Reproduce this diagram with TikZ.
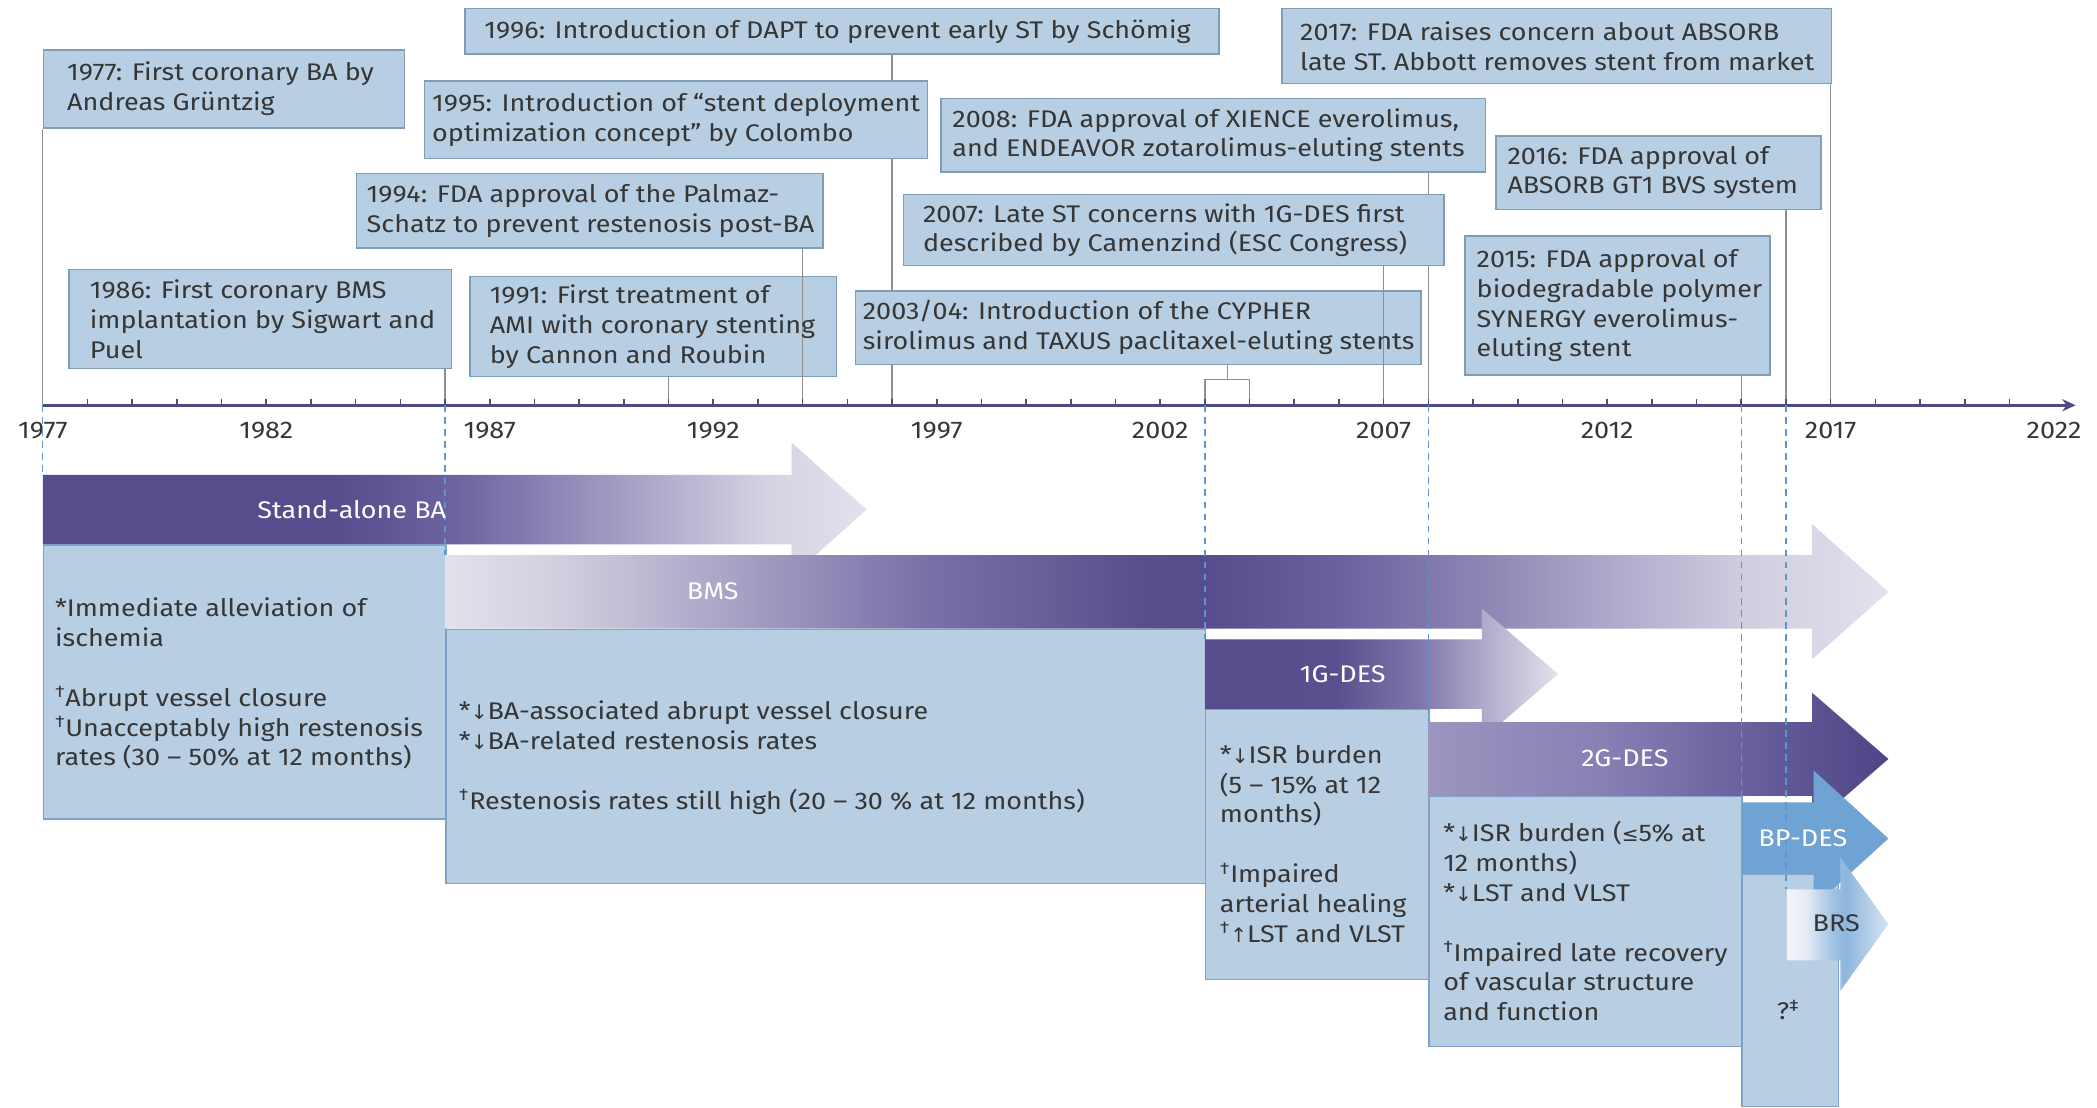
\documentclass[tikz,border=0pt]{standalone}
\usepackage{fontspec}
\setmainfont{Fira Sans}[FakeStretch=1.12]
\newfontfamily\symf{DejaVu Sans}
\usetikzlibrary{arrows.meta}
\definecolor{txt}{HTML}{363636}
\definecolor{boxfill}{HTML}{B8CEE3}
\definecolor{evborder}{HTML}{7F9CB9}
\definecolor{infoborder}{HTML}{7FA3C8}
\definecolor{conn}{HTML}{8E8E8E}
\definecolor{axisc}{HTML}{4E4B82}
\definecolor{dashc}{HTML}{5E95CC}
\definecolor{pdark}{HTML}{574C8C}
\definecolor{plight}{HTML}{E3E1EB}
\definecolor{bpblue}{HTML}{6FA3D4}
\definecolor{ba1}{HTML}{6C63A0}
\definecolor{ba2}{HTML}{A39DC4}
\definecolor{ba3}{HTML}{D5D2E3}
\definecolor{bm1}{HTML}{D2CEDF}
\definecolor{bm2}{HTML}{A49EC3}
\definecolor{bm3}{HTML}{7A71A8}
\definecolor{bm4}{HTML}{5A4F8D}
\definecolor{bm5}{HTML}{6A61A0}
\definecolor{bm6}{HTML}{8A83B2}
\definecolor{bm7}{HTML}{ABA6C9}
\definecolor{bm8}{HTML}{D0CDE0}
\definecolor{gaa}{HTML}{5A4F8E}
\definecolor{gab}{HTML}{7D75AA}
\definecolor{gac}{HTML}{B0AACB}
\definecolor{gba}{HTML}{9C95C0}
\definecolor{gbb}{HTML}{8880B3}
\definecolor{gbc}{HTML}{625998}
\definecolor{gbd}{HTML}{4F4586}
\definecolor{ra}{HTML}{F3F5F9}
\definecolor{rb}{HTML}{E6EDF5}
\definecolor{rc}{HTML}{9DC0E2}
\definecolor{rd}{HTML}{8EB6DD}
\definecolor{re}{HTML}{D5E4F2}
\pgfdeclarehorizontalshading{shBA}{100bp}{color(0bp)=(pdark); color(25bp)=(pdark); color(42.5bp)=(pdark); color(50bp)=(ba1); color(60bp)=(ba2); color(69bp)=(ba3); color(75bp)=(plight); color(100bp)=(plight)}
\pgfdeclarehorizontalshading{shBMS}{100bp}{color(0bp)=(plight); color(25bp)=(plight); color(29bp)=(bm1); color(35.5bp)=(bm2); color(41.5bp)=(bm3); color(49bp)=(bm4); color(51.25bp)=(pdark); color(56bp)=(bm5); color(60.5bp)=(bm6); color(65bp)=(bm7); color(70bp)=(bm8); color(75bp)=(plight); color(100bp)=(plight)}
\pgfdeclarehorizontalshading{shGa}{100bp}{color(0bp)=(pdark); color(25bp)=(pdark); color(43.5bp)=(gaa); color(55bp)=(gab); color(64.5bp)=(gac); color(75bp)=(plight); color(100bp)=(plight)}
\pgfdeclarehorizontalshading{shGb}{100bp}{color(0bp)=(gba); color(25bp)=(gba); color(44bp)=(gbb); color(63bp)=(gbc); color(75bp)=(gbd); color(100bp)=(gbd)}
\pgfdeclarehorizontalshading{shBRS}{100bp}{color(0bp)=(ra); color(25bp)=(ra); color(34bp)=(rb); color(48.5bp)=(rc); color(54bp)=(rd); color(75bp)=(re); color(100bp)=(re)}
\tikzset{
  every node/.style={font=\fontsize{18}{22.3}\selectfont, text=txt, inner sep=0pt},
  evbox/.style={draw=evborder, line width=1.1pt, fill=boxfill, anchor=north west},
  evtext/.style={anchor=west, align=left},
  infobox/.style={draw=infoborder, line width=1.1pt, fill=boxfill, anchor=north west},
  infotext/.style={anchor=north west, align=left},
  conn/.style={draw=conn, line width=1pt},
  axisline/.style={draw=axisc, line width=2.4pt},
  dashln/.style={draw=dashc, line width=1pt, dash pattern=on 5pt off 4pt},
  arrlbl/.style={text=white},
  yearlbl/.style={text=txt}
}
\newcommand{\dn}{{\symf\fontsize{15}{22.3}\selectfont ↓}}
\newcommand{\up}{{\symf\fontsize{15}{22.3}\selectfont ↑}}
\newcommand{\leqs}{{\symf\fontsize{15}{22.3}\selectfont ≤}}
\begin{document}
\begin{tikzpicture}[x=1pt,y=-1pt]
\fill[white] (0,0) rectangle (1568,828);
\useasboundingbox (0,0) rectangle (1568,828);
% axis coordinates
\coordinate (a1977) at (32,303);
\coordinate (a1986) at (332.8,303);
\coordinate (a1991) at (499.9,303);
\coordinate (a1994) at (600.1,303);
\coordinate (a1996) at (667,303);
\coordinate (a2003) at (901,303);
\coordinate (a2004) at (934.3,303);
\coordinate (a2007) at (1034.6,303);
\coordinate (a2008) at (1068,303);
\coordinate (a2015) at (1302,303);
\coordinate (a2016) at (1335.4,303);
\coordinate (a2017) at (1368.8,303);
\coordinate (aend) at (1552,303);
\coordinate (br) at (918,284);
% event boxes
\node[evbox, minimum width=564, minimum height=34] (b1996) at (347,6) {};
\node[evbox, minimum width=270, minimum height=58] (b1977) at (32,37) {};
\node[evbox, minimum width=349, minimum height=56] (b1994) at (266,129) {};
\node[evbox, minimum width=286, minimum height=74] (b1986) at (51,201) {};
\node[evbox, minimum width=274, minimum height=75] (b1991) at (351,206) {};
\node[evbox, minimum width=407, minimum height=55] (b2008) at (703,73) {};
\node[evbox, minimum width=411, minimum height=56] (b2017) at (958,6) {};
\node[evbox, minimum width=243, minimum height=55] (b2016) at (1118,101) {};
\node[evbox, minimum width=228, minimum height=104] (b2015) at (1095,176) {};
% connectors
\draw[conn] (b1977.south west) -- (a1977);
\draw[conn] (b1986.south -| a1986) -- (a1986);
\draw[conn] (b1991.south -| a1991) -- (a1991);
\draw[conn] (b1994.south -| a1994) -- (a1994);
\draw[conn] (b2015.south -| a2015) -- (a2015);
\draw[conn] (b2016.south -| a2016) -- (a2016);
\draw[conn] (b2017.south -| a2017) -- (a2017);
\draw[conn] (b1996.south -| a1996) -- (a1996);
\draw[conn] (b2008.south -| a2008) -- (a2008);
% boxes that long connectors pass behind
\node[evbox, minimum width=376, minimum height=58] (b1995) at (317,60) {};
\node[evbox, minimum width=423, minimum height=55] (b2003) at (639,217) {};
\node[evbox, minimum width=404, minimum height=53] (b2007) at (675,145) {};
\draw[conn] (b2007.south -| a2007) -- (a2007);
\draw[conn] (b2003.south -| br) -- (br);
\draw[conn] (a2003) -- (a2003 |- br) -- (a2004 |- br) -- (a2004);
% event texts
\node[evtext] (t1996) at ([xshift=15]b1996.west) {1996: Introduction of DAPT to prevent early ST by Schömig};
\node[evtext] (t1977) at ([xshift=18]b1977.west) {1977: First coronary BA by\\Andreas Grüntzig};
\node[evtext] (t1995) at ([xshift=6]b1995.west) {1995: Introduction of “stent deployment\\optimization concept” by Colombo};
\node[evtext] (t1994) at ([xshift=8]b1994.west) {1994: FDA approval of the Palmaz-\\Schatz to prevent restenosis post-BA};
\node[evtext] (t1986) at ([xshift=16]b1986.west) {1986: First coronary BMS\\implantation by Sigwart and\\Puel};
\node[evtext] (t1991) at ([xshift=15]b1991.west) {1991: First treatment of\\AMI with coronary stenting\\by Cannon and Roubin};
\node[evtext] (t2003) at ([xshift=6]b2003.west) {2003/04: Introduction of the CYPHER\\sirolimus and TAXUS paclitaxel-eluting stents};
\node[evtext] (t2007) at ([xshift=15]b2007.west) {2007: Late ST concerns with 1G-DES first\\described by Camenzind (ESC Congress)};
\node[evtext] (t2008) at ([xshift=9]b2008.west) {2008: FDA approval of XIENCE everolimus,\\and ENDEAVOR zotarolimus-eluting stents};
\node[evtext] (t2017) at ([xshift=14]b2017.west) {2017: FDA raises concern about ABSORB\\late ST. Abbott removes stent from market};
\node[evtext] (t2016) at ([xshift=9]b2016.west) {2016: FDA approval of\\ABSORB GT1 BVS system};
\node[evtext] (t2015) at ([xshift=9]b2015.west) {2015: FDA approval of\\biodegradable polymer\\SYNERGY everolimus-\\eluting stent};
% axis
\draw[axisline, -{Stealth[length=10pt,width=9pt]}] (a1977) -- (aend);
\foreach \i in {1,...,44} {
  \draw[axisc, line width=1.2pt] ({32+\i*33.42},303) -- ++(0,-4.5);
}
\foreach \yy in {1977,1982,...,2022} {
  \node[yearlbl] (yl\yy) at ({32+(\yy-1977)*33.42},322) {\yy};
}
% block arrows and info boxes
\shade[shading=shBA] (32,355) -- (592,355) -- (592,331) -- (648,381) -- (592,431) -- (592,407) -- (32,407) -- cycle;
\node[infobox, minimum width=301, minimum height=205] (iBA) at (32,407) {};
\shade[shading=shBMS] (333,415) -- (1355,415) -- (1355,392) -- (1412,442.5) -- (1355,493) -- (1355,470) -- (333,470) -- cycle;
\node[infobox, minimum width=568, minimum height=190] (iBMS) at (333,470) {};
\shade[shading=shGa] (901,478) -- (1108,478) -- (1108,455) -- (1165,504) -- (1108,553) -- (1108,530) -- (901,530) -- cycle;
\node[infobox, minimum width=167, minimum height=202] (iG1) at (901,530) {};
\shade[shading=shGb] (1068,540) -- (1355,540) -- (1355,518) -- (1412,567.5) -- (1355,617) -- (1355,595) -- (1068,595) -- cycle;
\node[infobox, minimum width=234, minimum height=187] (iG2) at (1068,595) {};
\node[infobox, minimum width=72, minimum height=174] (iBP) at (1302,653) {};
\fill[bpblue] (1302,600) -- (1356,600) -- (1356,576) -- (1412,627) -- (1356,678) -- (1356,653) -- (1302,653) -- cycle;
\shade[shading=shBRS] (1336,665) -- (1376,665) -- (1376,641) -- (1412,691) -- (1376,741) -- (1376,718) -- (1336,718) -- cycle;
% dashed guides
\draw[dashln] (a1977) -- ++(0,52);
\draw[dashln] (a1986) -- ++(0,112);
\draw[dashln] (a2003) -- ++(0,175);
\draw[dashln] (a2008) -- ++(0,237);
\draw[dashln] (a2015) -- ++(0,297);
\draw[dashln] (a2016) -- ++(0,362);
% arrow labels
\node[arrlbl] (lBA) at (263,381) {Stand-alone BA};
\node[arrlbl] (lBMS) at (533,442) {BMS};
\node[arrlbl] (lG1) at (1004,504) {1G-DES};
\node[arrlbl] (lG2) at (1215,567) {2G-DES};
\node[arrlbl] (lBP) at (1348,627) {BP-DES};
\node[yearlbl] (lBRS) at (1373,690) {BRS};
% info texts
\node[infotext] (tBA) at (41,447) {*Immediate alleviation of\\ischemia\\[22.3pt]\textsuperscript{†}Abrupt vessel closure\\\textsuperscript{†}Unacceptably high restenosis\\rates (30 – 50\% at 12 months)};
\node[infotext] (tBMS) at (343,524) {*\dn BA-associated abrupt vessel closure\\*\dn BA-related restenosis rates\\[22.3pt]\textsuperscript{†}Restenosis rates still high (20 – 30 \% at 12 months)};
\node[infotext] (tG1) at (912,557) {*\dn ISR burden\\(5 – 15\% at 12\\months)\\[22.3pt]\textsuperscript{†}Impaired\\arterial healing\\\textsuperscript{†}\up LST and VLST};
\node[infotext] (tG2) at (1079,614) {*\dn ISR burden (\leqs 5\% at\\12 months)\\*\dn LST and VLST\\[22.3pt]\textsuperscript{†}Impaired late recovery\\of vascular structure\\and function};
\node (tBP) at (1337,755) {?\textsuperscript{‡}};
\end{tikzpicture}
\end{document}
